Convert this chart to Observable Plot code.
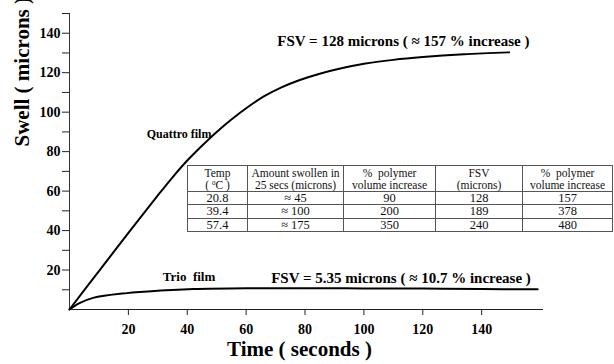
<!DOCTYPE html>
<html>
<head>
<meta charset="utf-8">
<script src="https://cdn.jsdelivr.net/npm/d3@7"></script>
<script src="https://cdn.jsdelivr.net/npm/@observablehq/plot@0.6"></script>
<style>
  html, body { margin: 0; padding: 0; background: white; }
  #wrap { position: relative; width: 614px; height: 364px; overflow: hidden; font-family: "Liberation Serif", "Times New Roman", serif; }
  #tbl { position: absolute; left: 187px; top: 165px; border-collapse: collapse; table-layout: fixed; background: white; font-family: "Liberation Serif", "Times New Roman", serif; color: #111; }
  #tbl td { border: 1px solid #555; text-align: center; padding: 0; }
  #tbl tr.head td { font-size: 11.5px; line-height: 12px; height: 25px; }
  #tbl tr.row td { font-size: 12.5px; line-height: 12px; height: 12.3px; }
  #tbl sup { font-size: 7px; vertical-align: 4px; line-height: 0; }
</style>
</head>
<body>
<div id="wrap"></div>
<script>
// ---- Data ----
const quattroTime  = [0, 10, 20, 30, 35, 40, 45, 50, 55, 60, 66, 72, 78, 85, 92, 100, 110, 120, 134, 149.3];
const quattroSwell = [0, 19.5, 38.8, 57.8, 67, 75.5, 83, 90, 96.3, 102, 108, 112.6, 116.2, 119.5, 122.1, 124.5, 126.5, 127.9, 129.3, 130.3];

const trioTime  = [0, 3.4, 8, 19.4, 30.9, 42.1, 60.3, 80, 100, 120, 140, 159];
const trioSwell = [0, 3.2, 5.9, 8.3, 9.6, 10.4, 10.8, 10.8, 10.7, 10.6, 10.4, 10.2];

const yMajorTicks = [20, 40, 60, 80, 100, 120, 140];
const yMinorTicks = [10, 30, 50, 70, 90, 110, 130, 150];
const xTicks = [20, 40, 60, 80, 100, 120, 140];

const xLabel = "Time ( seconds )";
const yLabel = "Swell ( microns )";
const quattroName = "Quattro film";
const trioName = "Trio  film";
const quattroNote = "FSV = 128 microns ( ≈ 157 % increase )";
const trioNote = "FSV = 5.35 microns ( ≈ 10.7 % increase )";

// table
const tableHeaders = ["Temp<br>( <sup>0</sup>C )", "Amount swollen in<br>25 secs (microns)", "%&nbsp; polymer<br>volume increase", "FSV<br>(microns)", "%&nbsp; polymer<br>volume increase"];
const tempC = ["20.8", "39.4", "57.4"];
const swollen25 = ["≈ 45", "≈ 100", "≈ 175"];
const volIncrease25 = ["90", "200", "350"];
const fsvMicrons = ["128", "189", "240"];
const volIncreaseFsv = ["157", "378", "480"];

const quattro = quattroTime.map((t, i) => ({t, s: quattroSwell[i]}));
const trio = trioTime.map((t, i) => ({t, s: trioSwell[i]}));

const chart = Plot.plot({
  width: 614,
  height: 364,
  marginLeft: 69,
  marginRight: 71,
  marginTop: 13,
  marginBottom: 55,
  style: {fontFamily: "'Liberation Serif', 'Times New Roman', serif", background: "white", color: "black"},
  x: {domain: [0, 161]},
  y: {domain: [0, 150]},
  marks: [
    Plot.axisY(yMinorTicks, {tickSize: 7, text: null, label: null, stroke: "#222"}),
    Plot.axisY(yMajorTicks, {tickSize: 7, tickPadding: 2, fontSize: 14, fontWeight: "bold", stroke: "#222", fill: "black", label: null}),
    Plot.axisX(xTicks, {tickSize: 6, tickPadding: 9, fontSize: 14, fontWeight: "bold", stroke: "#222", fill: "black", label: null}),
    Plot.ruleX([0], {stroke: "#333"}),
    Plot.ruleY([0], {stroke: "#222"}),
    Plot.line(quattro, {x: "t", y: "s", stroke: "black", strokeWidth: 2, curve: "catmull-rom"}),
    Plot.line(trio, {x: "t", y: "s", stroke: "black", strokeWidth: 2, curve: "catmull-rom"}),
    Plot.text([quattroNote], {x: 113.4, y: 136, text: d => d, fontSize: 15, fontWeight: "bold", fill: "black"}),
    Plot.text([trioNote], {x: 112.6, y: 15.7, text: d => d, fontSize: 15, fontWeight: "bold", fill: "black"}),
    Plot.text([quattroName], {x: 26.2, y: 89, text: d => d, textAnchor: "start", fontSize: 12, fontWeight: "bold", fill: "black"}),
    Plot.text([trioName], {x: 31.7, y: 16.7, text: d => d, textAnchor: "start", fontSize: 13, fontWeight: "bold", fill: "black", style: "white-space: pre"}),
    Plot.text([xLabel], {frameAnchor: "bottom", dx: -7, dy: 46, text: d => d, fontSize: 21, fontWeight: "bold", fill: "black"}),
    Plot.text([yLabel], {frameAnchor: "left", rotate: -90, dx: -47, dy: -15, text: d => d, fontSize: 21, fontWeight: "bold", fill: "black"})
  ]
});

const wrap = document.getElementById("wrap");
wrap.appendChild(chart);

// table overlay
const colWidths = [60, 96, 92, 87, 90];
const tbl = document.createElement("table");
tbl.id = "tbl";
const cg = document.createElement("colgroup");
colWidths.forEach(w => { const c = document.createElement("col"); c.style.width = w + "px"; cg.appendChild(c); });
tbl.appendChild(cg);
const hr = document.createElement("tr");
hr.className = "head";
tableHeaders.forEach(h => { const td = document.createElement("td"); td.innerHTML = h; hr.appendChild(td); });
tbl.appendChild(hr);
tempC.forEach((tc, i) => {
  const tr = document.createElement("tr");
  tr.className = "row";
  [tc, swollen25[i], volIncrease25[i], fsvMicrons[i], volIncreaseFsv[i]].forEach(v => {
    const td = document.createElement("td"); td.textContent = v; tr.appendChild(td);
  });
  tbl.appendChild(tr);
});
tbl.style.width = d3.sum(colWidths) + "px";
wrap.appendChild(tbl);
</script>
</body>
</html>
